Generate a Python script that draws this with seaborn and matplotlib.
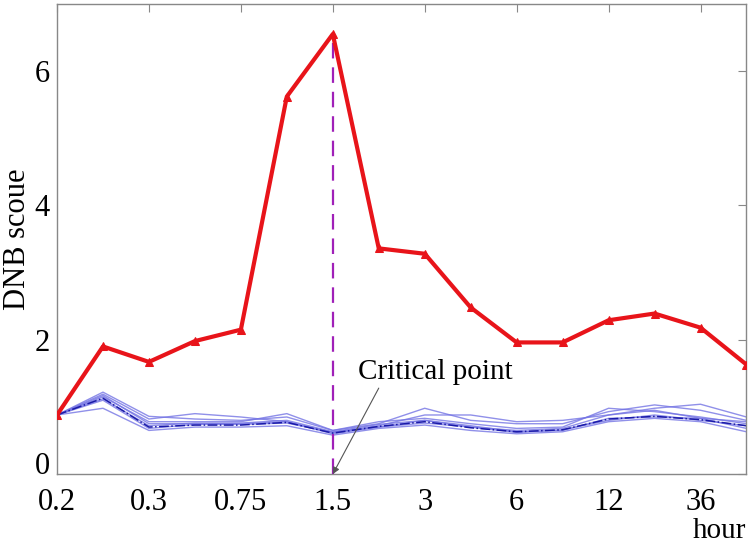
import numpy as np
import pandas as pd
import matplotlib
matplotlib.use("Agg")
import matplotlib.pyplot as plt
import seaborn as sns

# time points (16 samples), labels every second point
tick_labels = ['0.2', '0.3', '0.75', '1.5', '3', '6', '12', '36']

# DNB score of the dominant group
dnb = [0.88, 1.90, 1.67, 1.98, 2.15, 5.62, 6.55, 3.36, 3.28, 2.48,
       1.96, 1.96, 2.29, 2.39, 2.18, 1.63]

# other groups (thin blue lines)
other1 = [0.88, 1.22, 0.86, 0.82, 0.80, 0.85, 0.65, 0.75, 0.98, 0.80, 0.75, 0.75, 0.93, 1.03, 0.95, 0.80]
other2 = [0.88, 1.19, 0.82, 0.90, 0.85, 0.78, 0.62, 0.72, 0.88, 0.88, 0.78, 0.80, 0.88, 0.98, 1.04, 0.85]
other3 = [0.88, 1.15, 0.78, 0.78, 0.78, 0.90, 0.65, 0.78, 0.83, 0.75, 0.68, 0.70, 0.98, 0.93, 0.85, 0.75]
other4 = [0.88, 1.12, 0.72, 0.76, 0.75, 0.78, 0.60, 0.70, 0.80, 0.72, 0.63, 0.65, 0.83, 0.85, 0.83, 0.68]
other5 = [0.88, 0.98, 0.65, 0.70, 0.70, 0.72, 0.58, 0.68, 0.73, 0.65, 0.60, 0.63, 0.78, 0.83, 0.78, 0.63]
other6 = [0.88, 1.17, 0.75, 0.75, 0.76, 0.80, 0.63, 0.74, 0.80, 0.70, 0.65, 0.68, 0.88, 0.95, 0.83, 0.78]
other7 = [0.88, 1.10, 0.68, 0.74, 0.74, 0.76, 0.62, 0.70, 0.76, 0.70, 0.62, 0.66, 0.80, 0.88, 0.80, 0.72]
dark = [0.88, 1.13, 0.70, 0.73, 0.73, 0.77, 0.61, 0.71, 0.78, 0.69, 0.63, 0.66, 0.82, 0.86, 0.81, 0.72]

critical = 6  # index of 1.5 hour

sns.set_style("white")
plt.rcParams['font.family'] = ['Liberation Serif', 'DejaVu Serif']
plt.rcParams['text.color'] = 'black'
plt.rcParams['axes.labelcolor'] = 'black'
plt.rcParams['xtick.color'] = 'black'
plt.rcParams['ytick.color'] = 'black'

x = np.arange(len(dnb))

fig = plt.figure(figsize=(7.56, 5.5), dpi=100)
ax = fig.add_axes([0.0754, 0.138, 0.912, 0.855])

for ys in [other1, other2, other3, other4, other5, other6, other7]:
    sns.lineplot(x=x, y=ys, ax=ax, color='#7474e4', lw=1.0, alpha=0.8)
sns.lineplot(x=x, y=dark, ax=ax, color='#1a1aa8', lw=1.1, linestyle='-.')

ax.plot([critical, critical], [0, dnb[critical]], color='#a020b8', lw=1.6,
        linestyle=(0, (7, 4)), zorder=3)

sns.lineplot(x=x, y=dnb, ax=ax, color='#e8141a', lw=3, marker='^',
             markersize=6, markeredgecolor='#e8141a', zorder=4)

# label and arrow for the critical point
ax.text(6.55, 1.52, 'Critical point', fontsize=21, ha='left', va='center', color='black')
ax.annotate('', xy=(critical, 0), xytext=(7.0, 1.28),
            arrowprops=dict(arrowstyle='-|>', color='#555555', lw=0.8,
                            shrinkA=0, shrinkB=0, mutation_scale=10))

ax.set_xlim(0, 15)
ax.set_ylim(0, 7)
ax.set_xticks(np.arange(0, 15, 2))
ax.set_xticklabels(tick_labels)
ax.set_yticks([0, 2, 4, 6])
ax.tick_params(direction='in', length=6, labelsize=22, top=True, right=True,
               color='#888888', labelcolor='black')
ax.tick_params(axis='x', pad=10)
ax.tick_params(axis='y', pad=5)
# keep the "0" label clear of the "0.2" tick label below it
ax.get_yticklabels()[0].set_verticalalignment('baseline')
ax.set_ylabel('DNB scoue', fontsize=22, labelpad=2, color='black')
ax.text(1.0, -0.12, 'hour', transform=ax.transAxes, ha='right', va='center',
        fontsize=21, color='black')

for s in ax.spines.values():
    s.set_color('#888888')
    s.set_linewidth(1)

fig.savefig('out.png', dpi=100)
